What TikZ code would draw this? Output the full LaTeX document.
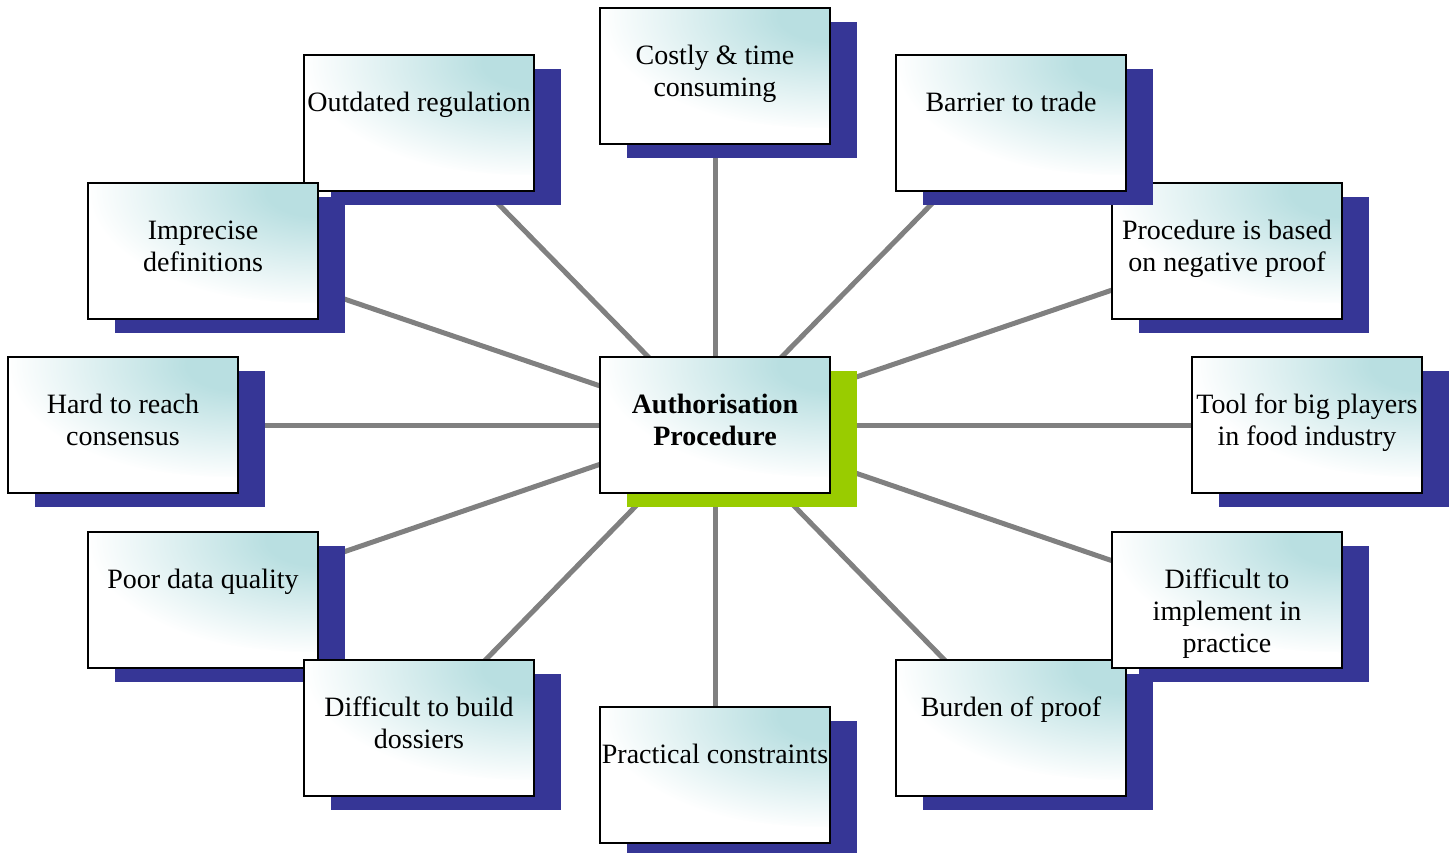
\documentclass[tikz,border=0pt]{standalone}
\usepackage{fontspec}
\setmainfont{Liberation Serif}
\usetikzlibrary{shadows,backgrounds}
\definecolor{boxteal}{HTML}{B9DFE1}
\definecolor{shadeblue}{HTML}{363696}
\definecolor{hubgreen}{HTML}{99CC00}
\definecolor{spokegray}{HTML}{808080}
\pgfdeclareradialshading{cornerglow}{\pgfpoint{0bp}{0bp}}{color(0bp)=(boxteal); color(5bp)=(boxteal); color(22.5bp)=(white); color(50bp)=(white)}
\newcommand{\boxlabel}[1]{\parbox[c][68pt][t]{115pt}{\centering\vspace*{16.8pt}\strut#1}}
\tikzset{
  card/.style={draw, line width=1.1pt, fill=white, inner sep=0pt, minimum width=115pt, minimum height=68pt, font=\fontsize{14pt}{16pt}\selectfont,
    path picture={\shade[shading=cornerglow] (path picture bounding box.north east) ellipse [x radius=128pt, y radius=60pt];}},
  issue/.style={card, drop shadow={shadow xshift=13.5pt, shadow yshift=-7pt, fill=shadeblue, opacity=1}},
  hub/.style={card, font=\fontsize{14pt}{16pt}\selectfont\bfseries, drop shadow={shadow xshift=13.5pt, shadow yshift=-7pt, fill=hubgreen, opacity=1}},
  spoke/.style={draw=spokegray, line width=2.5pt},
}
\begin{document}
\begin{tikzpicture}[x=0.5pt, y=-0.5pt]
  \useasboundingbox (0,0) rectangle (1451,852);
  \node[hub] (hub) at (715,425) {\boxlabel{Authorisation\\Procedure}};
  \node[issue] (costly) at (715,76) {\boxlabel{Costly \& time\\consuming}};
  \node[issue] (outdated) at (419,123) {\boxlabel{Outdated regulation}};
  \node[issue] (imprecise) at (203,251) {\boxlabel{Imprecise\\definitions}};
  \node[issue] (hard) at (123,425) {\boxlabel{Hard to reach\\consensus}};
  \node[issue] (poor) at (203,600) {\boxlabel{Poor data quality}};
  \node[issue] (dossiers) at (419,728) {\boxlabel{Difficult to build\\dossiers}};
  \node[issue] (practical) at (715,775) {\boxlabel{Practical constraints}};
  \node[issue] (burden) at (1011,728) {\boxlabel{Burden of proof}};
  \node[issue] (implement) at (1227,600) {\boxlabel{Difficult to\\implement in\\practice}};
  \node[issue] (tool) at (1307,425) {\boxlabel{Tool for big players\\in food industry}};
  \node[issue] (negproof) at (1227,251) {\boxlabel{Procedure is based\\on negative proof}};
  \node[issue] (barrier) at (1011,123) {\boxlabel{Barrier to trade}};
  % spokes behind the boxes
  \begin{scope}[on background layer]
    \foreach \n in {costly,outdated,imprecise,hard,poor,dossiers,practical,burden,implement,tool,negproof,barrier}
      \draw[spoke] (hub.center) -- (\n.center);
  \end{scope}
\end{tikzpicture}
\end{document}
